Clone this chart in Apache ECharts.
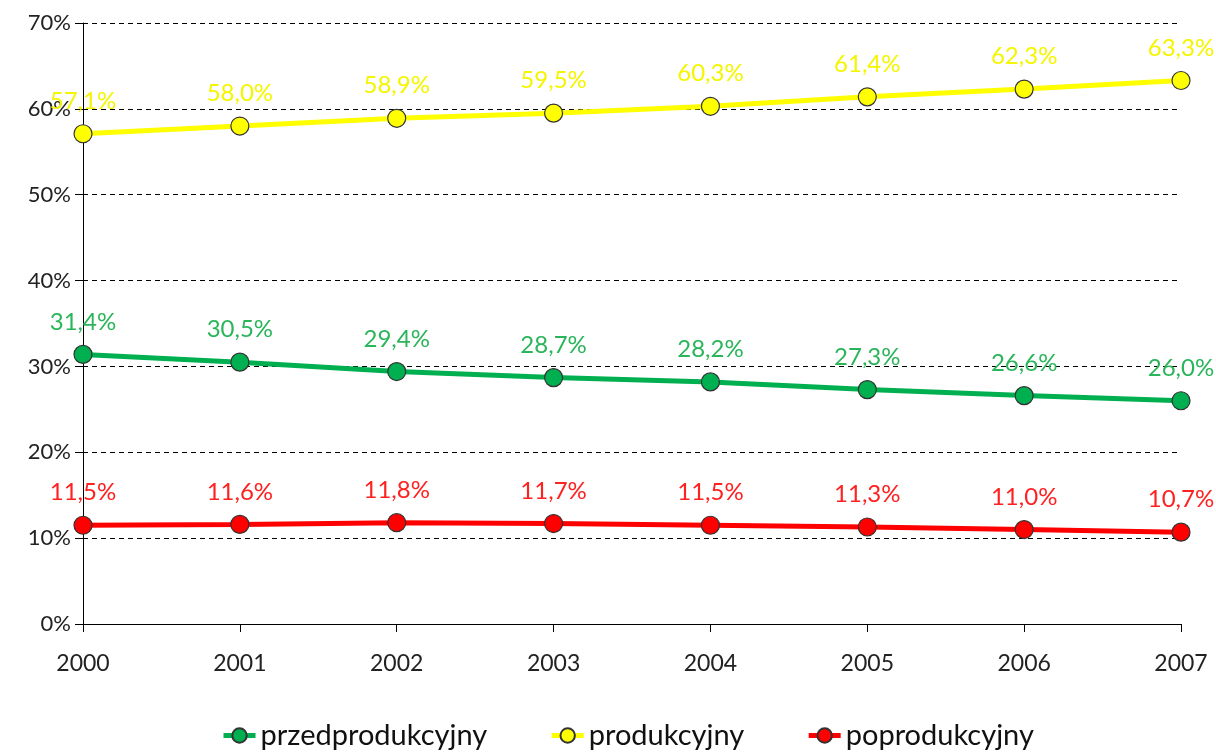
<!DOCTYPE html>
<html><head><meta charset="utf-8">
<script src="https://cdn.jsdelivr.net/npm/echarts@6/dist/echarts.min.js"></script>
<style>html,body{margin:0;padding:0;background:#fff}#c{width:1216px;height:753px}</style>
</head><body><div id="c"></div>
<script>
const years = ['2000','2001','2002','2003','2004','2005','2006','2007'];
const przed = [31.4, 30.5, 29.4, 28.7, 28.2, 27.3, 26.6, 26.0];
const prod = [57.1, 58.0, 58.9, 59.5, 60.3, 61.4, 62.3, 63.3];
const popr = [11.5, 11.6, 11.8, 11.7, 11.5, 11.3, 11.0, 10.7];
const names = ['przedprodukcyjny', 'produkcyjny', 'poprodukcyjny'];

const font = 'Lato, "Open Sans", sans-serif';
function mk(name, data, color, labelColor) {
  return {
    name, type: 'line', data,
    symbol: 'circle', symbolSize: 18,
    lineStyle: { color, width: 5 },
    itemStyle: { color, borderColor: '#333', borderWidth: 1.2 },
    label: {
      show: true, position: 'top', distance: 11,
      color: labelColor, fontFamily: font, fontSize: 24,
      formatter: p => p.value.toFixed(1).replace('.', ',') + '%'
    },
    z: 3
  };
}
const chart = echarts.init(document.getElementById('c'));
chart.setOption({
  animation: false,
  grid: { left: 83, right: 35, top: 23, bottom: 129, containLabel: false },
  xAxis: {
    type: 'category', data: years, boundaryGap: false,
    axisLine: { lineStyle: { color: '#000', width: 1 } },
    axisTick: { show: true, length: 8, lineStyle: { color: '#000' }, alignWithLabel: true },
    axisLabel: { color: '#222', fontFamily: font, fontSize: 23, margin: 28 },
    splitLine: { show: false }
  },
  yAxis: {
    type: 'value', min: 0, max: 70, interval: 10,
    axisLine: { show: true, lineStyle: { color: '#000', width: 1 } },
    axisTick: { show: true, length: 8, lineStyle: { color: '#000' } },
    axisLabel: { color: '#222', fontFamily: font, fontSize: 22, margin: 12, formatter: v => v + '%' },
    splitLine: { show: true, lineStyle: { color: '#000', type: [5, 4], width: 1 } }
  },
  legend: {
    top: 716, left: 216, itemWidth: 32, itemHeight: 18, itemGap: 62,
    lineStyle: { width: 5 },
    textStyle: { color: '#111', fontFamily: font, fontSize: 29 },
    data: names
  },
  series: [
    mk(names[0], przed, '#00b050', '#2bb55a'),
    mk(names[1], prod, '#ffff00', '#f5f500'),
    mk(names[2], popr, '#ff0000', '#ff2020')
  ]
});
</script></body></html>
